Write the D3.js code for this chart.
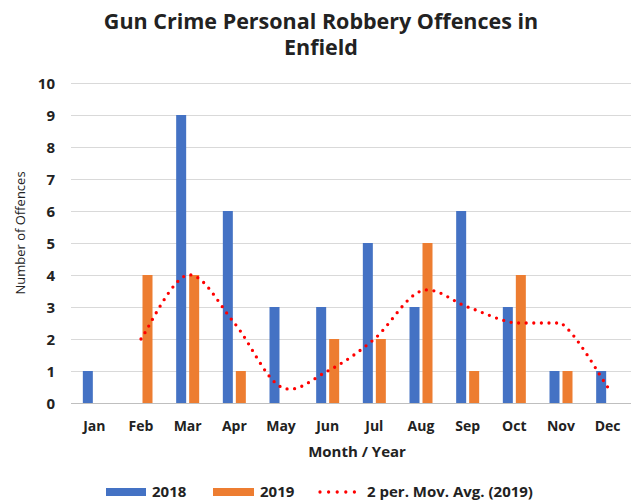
<!DOCTYPE html>
<html>
<head>
<meta charset="utf-8">
<style>
  body { margin: 0; background: #fff; }
  text { font-family: "Open Sans", Lato, sans-serif; fill: #222; }
</style>
</head>
<body>
<svg width="634" height="502"></svg>
<script src="https://d3js.org/d3.v7.min.js"></script>
<script>

var months = ["Jan", "Feb", "Mar", "Apr", "May", "Jun", "Jul", "Aug", "Sep", "Oct", "Nov", "Dec"];
var values2018 = [1, 0, 9, 6, 3, 3, 5, 3, 6, 3, 1, 1];
var values2019 = [0, 4, 4, 1, 0, 2, 2, 5, 1, 4, 1, 0];
// 2 period moving average of 2019, starts at Feb
var movAvg2019 = [null, 2, 4, 2.5, 0.5, 1, 2, 3.5, 3, 2.5, 2.5, 0.5];
var yTicks = [0, 1, 2, 3, 4, 5, 6, 7, 8, 9, 10];

var svg = d3.select("svg"),
    blue = "#4472C4",
    orange = "#ED7D31",
    red = "#FF0000";

var plotL = 71, plotR = 631, plotT = 83, plotB = 403;

var x = d3.scaleBand().domain(months).range([plotL, plotR]);
var y = d3.scaleLinear().domain([0, 10]).range([plotB, plotT]);

var barW = 10, gap = 3;

// excel-ish smoothing: catmull-rom, but flat segments stay flat
function excelSmooth(context) {
  var pts;
  return {
    areaStart: function() {},
    areaEnd: function() {},
    lineStart: function() { pts = []; },
    point: function(px, py) { pts.push([+px, +py]); },
    lineEnd: function() {
      var n = pts.length;
      if (!n) return;
      context.moveTo(pts[0][0], pts[0][1]);
      for (var i = 0; i < n - 1; i++) {
        var p0 = pts[Math.max(i - 1, 0)], p1 = pts[i],
            p2 = pts[i + 1], p3 = pts[Math.min(i + 2, n - 1)];
        var c1 = [p1[0] + (p2[0] - p0[0]) / 6, p1[1] + (p2[1] - p0[1]) / 6],
            c2 = [p2[0] - (p3[0] - p1[0]) / 6, p2[1] - (p3[1] - p1[1]) / 6];
        if (p1[1] === p2[1]) { c1[1] = p1[1]; c2[1] = p2[1]; }
        context.bezierCurveTo(c1[0], c1[1], c2[0], c2[1], p2[0], p2[1]);
      }
    }
  };
}

// title
var title = svg.append("text")
    .attr("text-anchor", "middle")
    .style("font-size", "21.5px")
    .style("font-weight", "bold");
title.append("tspan").attr("x", 321).attr("y", 29).text("Gun Crime Personal Robbery Offences in");
title.append("tspan").attr("x", 321).attr("y", 55).text("Enfield");

// gridlines
svg.append("g").selectAll("line")
  .data(yTicks)
  .enter().append("line")
    .attr("x1", plotL)
    .attr("x2", plotR)
    .attr("y1", function(d) { return y(d) + 0.5; })
    .attr("y2", function(d) { return y(d) + 0.5; })
    .attr("stroke", function(d) { return d === 0 ? "#bfbfbf" : "#d9d9d9"; })
    .attr("stroke-width", 1);

// y tick labels
svg.append("g").selectAll("text")
  .data(yTicks)
  .enter().append("text")
    .attr("x", 55)
    .attr("y", function(d) { return y(d) + 5.5; })
    .attr("text-anchor", "end")
    .style("font-size", "15px")
    .style("font-weight", "bold")
    .text(function(d) { return d; });

// bars
svg.append("g").selectAll("rect")
  .data(values2018)
  .enter().append("rect")
    .attr("x", function(d, i) { return x(months[i]) + x.bandwidth() / 2 - barW - gap / 2; })
    .attr("y", function(d) { return y(d); })
    .attr("width", barW)
    .attr("height", function(d) { return y(0) - y(d); })
    .attr("fill", blue);

svg.append("g").selectAll("rect")
  .data(values2019)
  .enter().append("rect")
    .attr("x", function(d, i) { return x(months[i]) + x.bandwidth() / 2 + gap / 2; })
    .attr("y", function(d) { return y(d); })
    .attr("width", barW)
    .attr("height", function(d) { return y(0) - y(d); })
    .attr("fill", orange);

// moving average
var avgPts = movAvg2019
    .map(function(d, i) { return {m: months[i], v: d}; })
    .filter(function(d) { return d.v !== null; });

var line = d3.line()
    .x(function(d) { return x(d.m) + x.bandwidth() / 2; })
    .y(function(d) { return y(d.v); })
    .curve(excelSmooth);

svg.append("path")
    .datum(avgPts)
    .attr("d", line)
    .attr("fill", "none")
    .attr("stroke", red)
    .attr("stroke-width", 3.3)
    .attr("stroke-linecap", "round")
    .attr("stroke-dasharray", "0 7.6");

// x labels
svg.append("g").selectAll("text")
  .data(months)
  .enter().append("text")
    .attr("x", function(d) { return x(d) + x.bandwidth() / 2; })
    .attr("y", 431)
    .attr("text-anchor", "middle")
    .style("font-size", "14px")
    .style("font-weight", "bold")
    .text(function(d) { return d; });

svg.append("text")
    .attr("x", 357)
    .attr("y", 457)
    .attr("text-anchor", "middle")
    .style("font-size", "15px")
    .style("font-weight", "bold")
    .text("Month / Year");

svg.append("text")
    .attr("transform", "translate(25,233) rotate(-90)")
    .attr("text-anchor", "middle")
    .style("font-size", "13px")
    .text("Number of Offences");

// legend
var lg = svg.append("g");
lg.append("rect").attr("x", 106).attr("y", 488).attr("width", 40).attr("height", 8).attr("fill", blue);
lg.append("text").attr("x", 152).attr("y", 497).style("font-size", "15px").style("font-weight", "bold").text("2018");
lg.append("rect").attr("x", 213).attr("y", 488).attr("width", 41).attr("height", 8).attr("fill", orange);
lg.append("text").attr("x", 260).attr("y", 497).style("font-size", "15px").style("font-weight", "bold").text("2019");
lg.append("line").attr("x1", 320).attr("x2", 363).attr("y1", 492).attr("y2", 492)
    .attr("stroke", red).attr("stroke-width", 3.3)
    .attr("stroke-linecap", "round").attr("stroke-dasharray", "0 8.6");
lg.append("text").attr("x", 367).attr("y", 497).style("font-size", "15px").style("font-weight", "bold").text("2 per. Mov. Avg. (2019)");

</script>
</body>
</html>
